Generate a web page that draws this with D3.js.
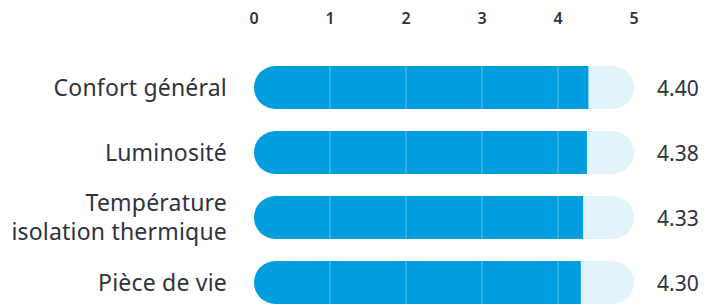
<!DOCTYPE html>
<html>
<head>
<meta charset="utf-8">
<style>
  body { margin: 0; background: #fff; }
  text { font-family: "Noto Sans", sans-serif; fill: #2f333d; }
</style>
</head>
<body>
<div id="chart"></div>
<script src="https://cdn.jsdelivr.net/npm/d3@7"></script>
<script>
    var categories = [["Confort général"], ["Luminosité"], ["Température", "isolation thermique"], ["Pièce de vie"]];
    var values = [4.40, 4.38, 4.33, 4.30];
    var valueLabels = ["4.40", "4.38", "4.33", "4.30"];
    var ticks = [0, 1, 2, 3, 4, 5];

    var width = 714, height = 306;
    var barH = 43, r = barH / 2;

    var svg = d3.select("#chart")
        .append("svg")
        .attr("width", width)
        .attr("height", height);

    var x = d3.scaleLinear().domain([0, 5]).range([254, 634]);
    var y = d3.scaleBand()
        .domain(d3.range(categories.length))
        .range([55, 315])
        .paddingInner(0.34)
        .paddingOuter(0.17);

    // tick labels along the top
    svg.append("g")
        .selectAll("text")
        .data(ticks)
        .enter()
        .append("text")
        .attr("x", function(d) { return x(d); })
        .attr("y", 24)
        .attr("text-anchor", "middle")
        .style("font-size", "16px")
        .style("font-weight", "600")
        .text(function(d) { return d; });

    var rows = svg.selectAll(".row")
        .data(values)
        .enter()
        .append("g")
        .attr("class", "row")
        .attr("transform", function(d, i) { return "translate(0," + (y(i) + y.bandwidth() / 2 - barH / 2) + ")"; });

    // background track, rounded both ends
    rows.append("rect")
        .attr("x", x(0))
        .attr("width", x(5) - x(0))
        .attr("height", barH)
        .attr("rx", r)
        .attr("fill", "#e1f3fb");

    // value bar: rounded left, square right
    rows.append("path")
        .attr("fill", "#009ddf")
        .attr("d", function(d) {
            var x0 = x(0), x1 = x(d);
            return "M" + (x0 + r) + ",0H" + x1 + "V" + barH + "H" + (x0 + r) +
                "A" + r + "," + r + " 0 0 1 " + (x0 + r) + ",0Z";
        });

    // light grid lines inside the bars
    rows.each(function(d) {
        d3.select(this).selectAll("line")
            .data(ticks.filter(function(t) { return t > 0 && t < d; }))
            .enter()
            .append("line")
            .attr("x1", function(t) { return x(t); })
            .attr("x2", function(t) { return x(t); })
            .attr("y1", 0)
            .attr("y2", barH)
            .attr("stroke", "#5fc0ea")
            .attr("stroke-width", 1);
    });

    // category labels
    rows.append("text")
        .attr("x", 227)
        .attr("text-anchor", "end")
        .style("font-size", "23px")
        .style("letter-spacing", "0.2px")
        .each(function(d, i) {
            var lines = categories[i];
            var t = d3.select(this);
            lines.forEach(function(l, j) {
                t.append("tspan")
                    .attr("x", 227)
                    .attr("y", r + 8 + (j - (lines.length - 1) / 2) * 29)
                    .text(l);
            });
        });

    // value labels
    rows.append("text")
        .attr("x", 657)
        .attr("y", r + 8)
        .style("font-size", "21px")
        .text(function(d, i) { return valueLabels[i]; });
</script>
</body>
</html>
